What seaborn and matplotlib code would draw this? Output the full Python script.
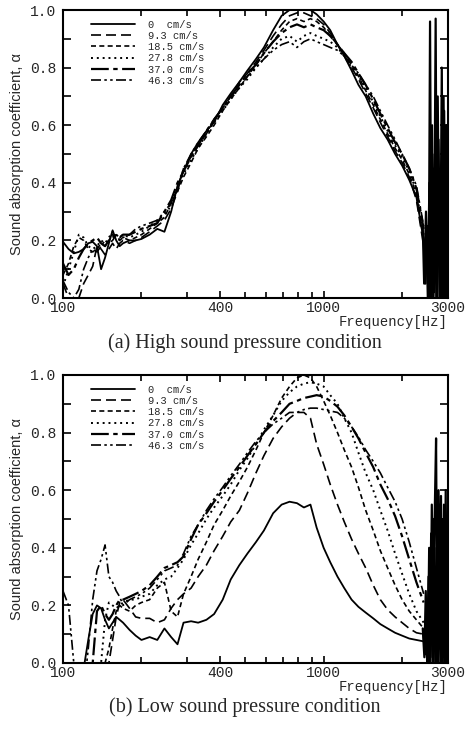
import matplotlib
matplotlib.use("Agg")
import matplotlib.pyplot as plt
import matplotlib.ticker as mticker
import seaborn as sns

# frequency grid [Hz] shared by all curves
FREQ = [100, 105, 110, 115, 120, 125, 130, 135, 140, 145, 150, 155, 160, 165, 170,
        180, 190, 200, 215, 230, 245, 260, 275, 290, 310, 330, 355, 380, 410, 440,
        475, 510, 550, 590, 640, 690, 740, 790, 840, 890, 940, 1000, 1060, 1130,
        1200, 1280, 1360, 1450, 1550, 1650, 1760, 1880, 2000, 2130, 2270, 2420]

SPEEDS = ["0  cm/s", "9.3 cm/s", "18.5 cm/s", "27.8 cm/s", "37.0 cm/s", "46.3 cm/s"]

# (a) high sound pressure
HIGH_0 = [0.195, 0.17, 0.155, 0.16, 0.17, 0.19, 0.195, 0.18, 0.10, 0.14,
          0.19, 0.235, 0.20, 0.18, 0.19, 0.20, 0.20, 0.205, 0.22, 0.24,
          0.23, 0.30, 0.39, 0.44, 0.50, 0.54, 0.58, 0.61, 0.67, 0.71,
          0.75, 0.79, 0.83, 0.87, 0.93, 0.98, 1.0, 1.0, 1.0, 1.0,
          0.985, 0.96, 0.93, 0.88, 0.84, 0.79, 0.74, 0.70, 0.64, 0.59,
          0.55, 0.50, 0.46, 0.41, 0.35, 0.20]
HIGH_93 = [0.05, 0.0, -0.02, 0.0, 0.05, 0.08, 0.11, 0.18, 0.17, 0.15,
           0.17, 0.19, 0.17, 0.19, 0.20, 0.19, 0.20, 0.21, 0.23, 0.25,
           0.27, 0.31, 0.37, 0.45, 0.49, 0.53, 0.57, 0.62, 0.66, 0.70,
           0.75, 0.78, 0.82, 0.86, 0.91, 0.95, 0.98, 0.99, 0.99, 0.98,
           0.97, 0.95, 0.92, 0.88, 0.84, 0.80, 0.76, 0.71, 0.66, 0.61,
           0.56, 0.51, 0.47, 0.42, 0.34, 0.18]
HIGH_185 = [0.08, 0.12, 0.18, 0.21, 0.20, 0.17, 0.16, 0.17, 0.19, 0.18,
            0.20, 0.22, 0.21, 0.20, 0.21, 0.20, 0.21, 0.22, 0.24, 0.26,
            0.28, 0.33, 0.37, 0.42, 0.47, 0.52, 0.56, 0.60, 0.65, 0.69,
            0.73, 0.77, 0.81, 0.85, 0.89, 0.93, 0.96, 0.97, 0.96, 0.97,
            0.96, 0.94, 0.91, 0.88, 0.85, 0.81, 0.77, 0.72, 0.67, 0.62,
            0.57, 0.52, 0.48, 0.43, 0.36, 0.20]
HIGH_278 = [0.04, 0.10, 0.16, 0.22, 0.21, 0.18, 0.17, 0.18, 0.20, 0.19,
            0.21, 0.23, 0.22, 0.21, 0.22, 0.21, 0.22, 0.23, 0.25, 0.27,
            0.29, 0.32, 0.38, 0.43, 0.48, 0.52, 0.57, 0.61, 0.65, 0.69,
            0.73, 0.76, 0.80, 0.83, 0.87, 0.90, 0.91, 0.89, 0.91, 0.92,
            0.91, 0.90, 0.89, 0.87, 0.84, 0.80, 0.77, 0.73, 0.68, 0.63,
            0.58, 0.53, 0.49, 0.44, 0.37, 0.22]
HIGH_370 = [0.12, 0.08, 0.10, 0.14, 0.17, 0.19, 0.20, 0.21, 0.19, 0.18,
            0.20, 0.21, 0.22, 0.21, 0.22, 0.22, 0.23, 0.24, 0.25, 0.26,
            0.30, 0.34, 0.40, 0.44, 0.49, 0.53, 0.58, 0.62, 0.66, 0.70,
            0.74, 0.78, 0.81, 0.85, 0.89, 0.92, 0.94, 0.95, 0.94, 0.95,
            0.94, 0.93, 0.91, 0.88, 0.85, 0.82, 0.78, 0.74, 0.69, 0.64,
            0.59, 0.54, 0.50, 0.45, 0.38, 0.24]
HIGH_463 = [0.06, 0.02, 0.0, 0.03, 0.10, 0.14, 0.17, 0.16, 0.18, 0.20,
            0.19, 0.20, 0.22, 0.20, 0.21, 0.22, 0.24, 0.25, 0.26, 0.27,
            0.30, 0.33, 0.38, 0.45, 0.50, 0.54, 0.58, 0.62, 0.66, 0.70,
            0.73, 0.77, 0.80, 0.83, 0.86, 0.88, 0.89, 0.87, 0.89, 0.90,
            0.89, 0.88, 0.87, 0.86, 0.84, 0.81, 0.78, 0.74, 0.70, 0.65,
            0.60, 0.55, 0.50, 0.45, 0.39, 0.25]

# (b) low sound pressure
LOW_0 = [-0.1, -0.1, -0.1, -0.1, -0.02, 0.08, 0.17, 0.20, 0.19, 0.15,
         0.12, 0.14, 0.16, 0.15, 0.14, 0.115, 0.095, 0.08, 0.09, 0.08,
         0.12, 0.09, 0.065, 0.14, 0.145, 0.14, 0.15, 0.17, 0.22, 0.29,
         0.34, 0.38, 0.42, 0.46, 0.52, 0.55, 0.56, 0.555, 0.54, 0.55,
         0.47, 0.40, 0.35, 0.30, 0.26, 0.22, 0.195, 0.175, 0.155, 0.135,
         0.12, 0.105, 0.095, 0.085, 0.08, 0.075]
LOW_93 = [-0.1, -0.1, -0.1, -0.1, -0.1, -0.1, -0.1, -0.1, -0.1, -0.05,
          0.0, 0.08, 0.16, 0.21, 0.22, 0.19, 0.16, 0.155, 0.155, 0.14,
          0.15, 0.19, 0.22, 0.24, 0.26, 0.30, 0.34, 0.39, 0.44, 0.49,
          0.53, 0.59, 0.66, 0.72, 0.78, 0.82, 0.85, 0.87, 0.87, 0.85,
          0.76, 0.69, 0.62, 0.55, 0.49, 0.43, 0.38, 0.33, 0.27, 0.22,
          0.185, 0.16, 0.14, 0.12, 0.105, 0.10]
LOW_185 = [-0.1, -0.1, -0.1, -0.1, -0.1, -0.1, -0.1, -0.1, -0.1, 0.0,
           0.05, 0.12, 0.18, 0.20, 0.19, 0.18, 0.20, 0.21, 0.22, 0.26,
           0.28, 0.18, 0.16, 0.24, 0.30, 0.36, 0.42, 0.48, 0.53, 0.58,
           0.63, 0.68, 0.74, 0.80, 0.86, 0.92, 0.96, 0.99, 1.0, 0.99,
           0.96, 0.91, 0.86, 0.80, 0.74, 0.68, 0.61, 0.53, 0.46, 0.39,
           0.33, 0.27, 0.22, 0.18, 0.15, 0.12]
LOW_278 = [-0.1, -0.1, -0.1, -0.1, -0.1, -0.1, -0.1, -0.1, 0.0, 0.15,
           0.21, 0.20, 0.19, 0.20, 0.21, 0.22, 0.22, 0.23, 0.24, 0.27,
           0.29, 0.30, 0.33, 0.36, 0.41, 0.45, 0.50, 0.54, 0.58, 0.62,
           0.67, 0.71, 0.76, 0.81, 0.86, 0.91, 0.94, 0.96, 0.97, 0.975,
           0.97, 0.96, 0.93, 0.90, 0.85, 0.80, 0.73, 0.66, 0.60, 0.53,
           0.46, 0.38, 0.31, 0.24, 0.18, 0.14]
LOW_370 = [-0.1, -0.1, -0.1, -0.1, -0.1, -0.1, 0.0, 0.18, 0.20, 0.17,
           0.15, 0.17, 0.20, 0.22, 0.22, 0.23, 0.24, 0.25, 0.27, 0.30,
           0.33, 0.34, 0.35, 0.37, 0.43, 0.48, 0.52, 0.56, 0.60, 0.64,
           0.68, 0.72, 0.76, 0.80, 0.84, 0.87, 0.90, 0.91, 0.92, 0.925,
           0.93, 0.925, 0.91, 0.89, 0.86, 0.82, 0.78, 0.73, 0.68, 0.62,
           0.57, 0.51, 0.44, 0.36, 0.28, 0.21]
LOW_463 = [0.25, 0.20, 0.0, -0.1, -0.1, 0.05, 0.22, 0.32, 0.36, 0.41,
           0.30, 0.28, 0.25, 0.23, 0.20, 0.22, 0.23, 0.24, 0.26, 0.29,
           0.32, 0.33, 0.34, 0.38, 0.44, 0.48, 0.53, 0.57, 0.61, 0.65,
           0.69, 0.73, 0.77, 0.80, 0.83, 0.85, 0.87, 0.87, 0.88, 0.885,
           0.885, 0.88, 0.875, 0.87, 0.85, 0.82, 0.785, 0.74, 0.70, 0.66,
           0.61, 0.56, 0.50, 0.42, 0.33, 0.24]

# noisy high-frequency end (all curves pile up)
SPIKE_F_HIGH = [2420, 2460, 2500, 2530, 2560, 2590, 2620, 2650, 2690, 2720,
                2760, 2800, 2840, 2870, 2900, 2930, 2960, 2990]
SPIKE_A_HIGH = [0.2, 0.05, 0.25, 0.0, 0.96, 0.0, 0.45, 0.02, 0.97, 0.0,
                0.55, 0.0, 0.8, 0.0, 0.65, 0.05, 0.6, 0.0]
NOISE_F_HIGH = [2400, 2430, 2470, 2510, 2545, 2575, 2605, 2640, 2670, 2705,
                2740, 2780, 2820, 2855, 2885, 2915, 2945, 2975, 2995]
NOISE_A_HIGH = [0.25, 0.05, 0.3, 0.0, 0.4, 0.0, 0.6, 0.0, 0.5, 0.0,
                0.7, 0.0, 0.45, 0.0, 0.7, 0.0, 0.5, 0.0, 0.4]
SPIKE_F_LOW = [2420, 2450, 2480, 2510, 2540, 2570, 2600, 2630, 2660, 2700,
               2730, 2760, 2790, 2820, 2850, 2880, 2910, 2940, 2970, 2990]
SPIKE_A_LOW = [0.1, 0.03, 0.2, 0.0, 0.4, 0.02, 0.55, 0.0, 0.45, 0.78,
               0.0, 0.6, 0.05, 0.58, 0.0, 0.5, 0.02, 0.6, 0.0, 0.45]
NOISE_F_LOW = [2400, 2435, 2465, 2495, 2525, 2555, 2585, 2615, 2645, 2680,
               2715, 2745, 2775, 2805, 2835, 2865, 2895, 2925, 2955, 2985]
NOISE_A_LOW = [0.12, 0.02, 0.25, 0.0, 0.3, 0.0, 0.45, 0.0, 0.5, 0.0,
               0.4, 0.0, 0.55, 0.0, 0.5, 0.0, 0.55, 0.0, 0.5, 0.0]

STYLES = [
    dict(ls="-", lw=1.3),
    dict(ls=(0, (6, 3)), lw=1.2),
    dict(ls=(0, (3, 2)), lw=1.2),
    dict(ls=(0, (1, 2)), lw=1.4),
    dict(ls=(0, (8, 2, 2, 2)), lw=1.6),
    dict(ls=(0, (6, 2, 1.5, 2, 1.5, 2)), lw=1.2),
]

sns.set_style("ticks")
plt.rcParams["font.family"] = ["Liberation Mono", "DejaVu Sans"]

fig = plt.figure(figsize=(4.72, 7.29), dpi=100)
ax_a = fig.add_axes([63 / 472, 1 - 298 / 729, 385 / 472, 288 / 729])
ax_b = fig.add_axes([63 / 472, 1 - 663 / 729, 385 / 472, 288 / 729])

panels = [
    (ax_a, [HIGH_0, HIGH_93, HIGH_185, HIGH_278, HIGH_370, HIGH_463],
     [(SPIKE_F_HIGH, SPIKE_A_HIGH), (NOISE_F_HIGH, NOISE_A_HIGH)],
     "(a) High sound pressure condition", 343),
    (ax_b, [LOW_0, LOW_93, LOW_185, LOW_278, LOW_370, LOW_463],
     [(SPIKE_F_LOW, SPIKE_A_LOW), (NOISE_F_LOW, NOISE_A_LOW)],
     "(b) Low sound pressure condition", 707),
]

for ax, curves, spikes, caption, cy in panels:
    for lab, vals, st in zip(SPEEDS, curves, STYLES):
        sns.lineplot(x=FREQ, y=vals, ax=ax, color="black", label=lab,
                     estimator=None, linestyle=st["ls"], linewidth=st["lw"])
    for sf, sa in spikes:
        sns.lineplot(x=sf, y=sa, ax=ax, color="black", estimator=None,
                     sort=False, linewidth=1.6)

    ax.set_xscale("log")
    ax.set_xlim(100, 3000)
    ax.set_ylim(0, 1.0)
    ax.xaxis.set_major_locator(mticker.FixedLocator([100, 400, 1000, 3000]))
    ax.xaxis.set_major_formatter(mticker.FixedFormatter(["100", "400", "1000", "3000"]))
    ax.xaxis.set_minor_locator(mticker.FixedLocator([200, 300, 500, 600, 700, 800, 900, 2000]))
    ax.xaxis.set_minor_formatter(mticker.NullFormatter())
    ax.yaxis.set_major_locator(mticker.MultipleLocator(0.2))
    ax.yaxis.set_minor_locator(mticker.MultipleLocator(0.1))
    ax.yaxis.set_major_formatter(mticker.FormatStrFormatter("%.1f"))
    ax.tick_params(which="both", direction="in", top=True, right=True,
                   width=1.2, color="black", labelsize=10.5)
    ax.tick_params(axis="y", which="major", length=6, pad=5)
    ax.tick_params(axis="y", which="minor", length=6)
    ax.tick_params(axis="x", which="major", length=5, pad=2)
    ax.tick_params(axis="x", which="minor", length=4)
    for sp in ax.spines.values():
        sp.set_linewidth(1.5)
        sp.set_color("black")

    ax.set_xlabel("Frequency[Hz]", fontsize=10, loc="right", labelpad=0)
    ax.set_ylabel("Sound absorption coefficient, \u03b1", fontsize=10.5,
                  family=["Liberation Sans", "DejaVu Sans"], labelpad=4)

    ax.legend(loc="upper left", bbox_to_anchor=(0.06, 0.985), frameon=False,
              fontsize=7.5, handlelength=4.2, labelspacing=0.12,
              handletextpad=1.2, borderpad=0)

    fig.text(245 / 472, 1 - cy / 729, caption, ha="center", va="center",
             fontsize=14.5, family=["Liberation Serif", "DejaVu Serif"])

fig.savefig("out.png", dpi=100)
